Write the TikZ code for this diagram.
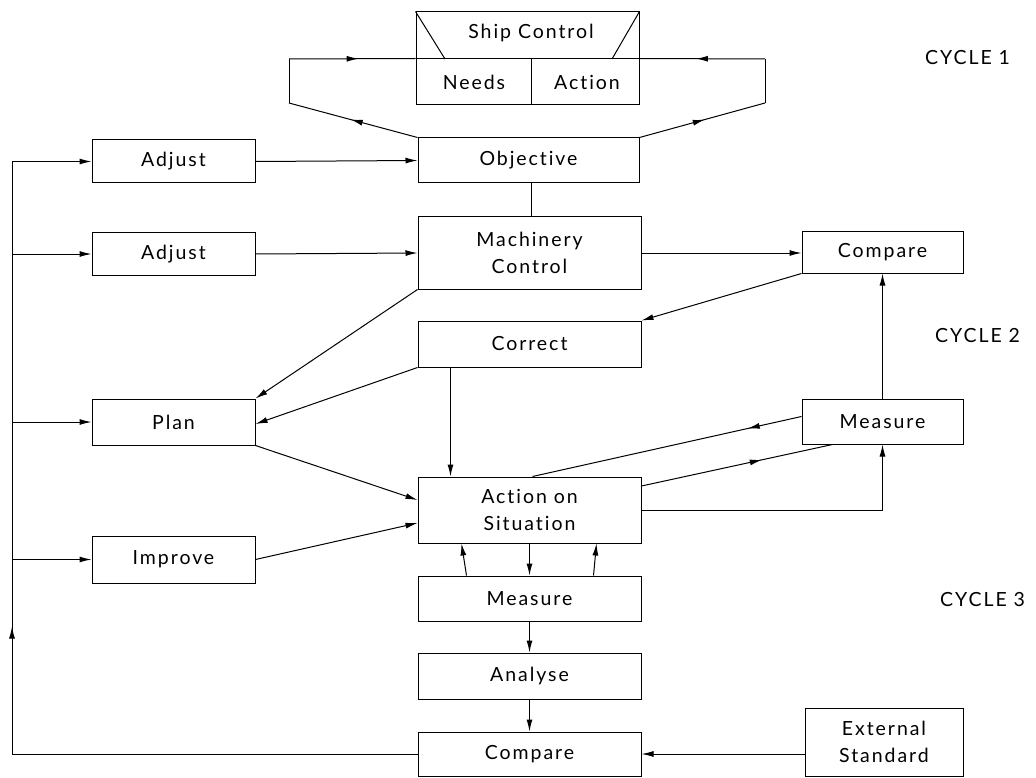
\documentclass[tikz,border=0pt]{standalone}
\usepackage{fontspec}
\setmainfont{Lato}[LetterSpace=10,Ligatures={NoCommon}]
\usetikzlibrary{arrows.meta,decorations.markings,calc}
\begin{document}
\begin{tikzpicture}[x=1pt,y=-1pt,
  box/.style={draw, line width=1pt, inner sep=0pt, font=\fontsize{19.5}{27}\selectfont, align=center},
  arr/.style={line width=1pt, -{Latex[length=12pt,width=6pt]}},
  ln/.style={line width=1pt},
  marr/.style={line width=1pt, postaction={decorate}, decoration={markings, mark=at position #1 with {\arrow{Latex[length=12pt,width=6pt]}}}},
  lbl/.style={font=\fontsize{19.5}{22}\selectfont, inner sep=0pt}
]
\useasboundingbox (0,0) rectangle (1036,778);

% Ship control block
\node[box, minimum width=223pt, minimum height=93pt] (ship) at (527.5,58.5) {};
\coordinate (tl) at (445,59);
\coordinate (tr) at (612,59);
\coordinate (vd) at (531,59);
\draw[ln] (ship.north west) -- (tl);
\draw[ln] (ship.north east) -- (tr);
\draw[ln] (ship.west) -- (ship.east);
\draw[ln] (vd) -- (vd |- ship.south);
\node[lbl] (shiptxt) at (531,33) {Ship Control};
\node[lbl] (needs) at (474,82) {Needs};
\node[lbl] (action) at (587,82) {Action};

% boxes
\node[box, minimum width=221pt, minimum height=45pt] (obj) at (528.5,160.5) {Objective};
\node[box, minimum width=163pt, minimum height=43pt] (adj1) at (173.5,161.5) {Adjust};
\node[box, minimum width=163pt, minimum height=42pt] (adj2) at (173.5,254) {Adjust};
\node[box, minimum width=223pt, minimum height=72pt] (mach) at (529.5,253) {Machinery\\Control};
\node[box, minimum width=161pt, minimum height=41pt] (cmpR) at (882.5,252.5) {Compare};
\node[box, minimum width=223pt, minimum height=46pt] (corr) at (529.5,344) {Correct};
\node[box, minimum width=163pt, minimum height=46pt] (plan) at (173.5,422) {Plan};
\node[box, minimum width=161pt, minimum height=45pt] (measR) at (882.5,421.5) {Measure};
\node[box, minimum width=223pt, minimum height=66pt] (act) at (529.5,510) {Action on\\Situation};
\node[box, minimum width=163pt, minimum height=47pt] (impr) at (173.5,559.5) {Improve};
\node[box, minimum width=223pt, minimum height=45pt] (measB) at (529.5,598.5) {Measure};
\node[box, minimum width=223pt, minimum height=46pt] (anal) at (529.5,676) {Analyse};
\node[box, minimum width=223pt, minimum height=44pt] (cmpB) at (529.5,754) {Compare};
\node[box, minimum width=158pt, minimum height=68pt] (ext) at (884,742) {External\\Standard};

% cycle labels
\node[lbl, anchor=west] (c1) at (925,58) {CYCLE 1};
\node[lbl, anchor=west] (c2) at (935,336) {CYCLE 2};
\node[lbl, anchor=west] (c3) at (940,600) {CYCLE 3};

% cycle 1 loops
\coordinate (l1) at (289,103);
\coordinate (l2) at (289,59);
\coordinate (r1) at (765,103);
\coordinate (r2) at (765,59);
\draw[marr=0.52] (obj.north west) -- (l1);
\draw[ln] (l1) -- (l2);
\draw[marr=0.55] (l2) -- (ship.west);
\draw[marr=0.52] (obj.north east) -- (r1);
\draw[ln] (r1) -- (r2);
\draw[marr=0.55] (r2) -- (ship.east);

\draw[ln] (obj.south -| vd) -- (vd |- mach.north);
\draw[arr] (adj1.east) -- (obj.west);
\draw[arr] (adj2.east) -- (mach.west);
\draw[arr] (mach.east) -- (mach.east -| cmpR.west);
\draw[arr] (cmpR.south west) -- (corr.north east);
\draw[arr] (mach.south west) -- (plan.north east);
\draw[arr] (corr.south west) -- ($(plan.east)+(0,2)$);
\draw[arr] ($(corr.south west)+(33,0)$) -- ($(act.north west)+(33,0)$);
\draw[arr] (plan.south east) -- ($(act.west)+(0,-10)$);
\draw[arr] (impr.east) -- ($(act.west)+(0,13)$);

% cycle 2 measure lines
\draw[marr=0.2] ($(measR.west)+(0,-5)$) -- ($(act.north)+(3,0)$);
\draw[marr=0.63] ($(act.east)+(0,-24)$) -- ($(measR.south)+(-50,0)$);
\draw[arr] (act.east) -- (act.east -| measR.south) -- (measR.south);
\draw[arr] (measR.north) -- (cmpR.south);

% cycle 3
\draw[arr] ($(measB.north west)+(49,0)$) -- ($(act.south west)+(44,0)$);
\draw[arr] (act.south) -- (measB.north);
\draw[arr] ($(measB.north west)+(176,0)$) -- ($(act.south west)+(179,0)$);
\draw[arr] (measB.south) -- (anal.north);
\draw[arr] (anal.south) -- (cmpB.north);
\draw[arr] (ext.west |- cmpB.east) -- (cmpB.east);

% feedback bus
\coordinate (b0) at (12,754);
\coordinate (bt) at (12,161.5);
\draw[ln] (cmpB.west) -- (b0);
\draw[marr=0.215] (b0) -- (bt);
\draw[arr] (bt) -- (adj1.west);
\draw[arr] (bt |- adj2.west) -- (adj2.west);
\draw[arr] (bt |- plan.west) -- (plan.west);
\draw[arr] (bt |- impr.west) -- (impr.west);
\end{tikzpicture}
\end{document}
